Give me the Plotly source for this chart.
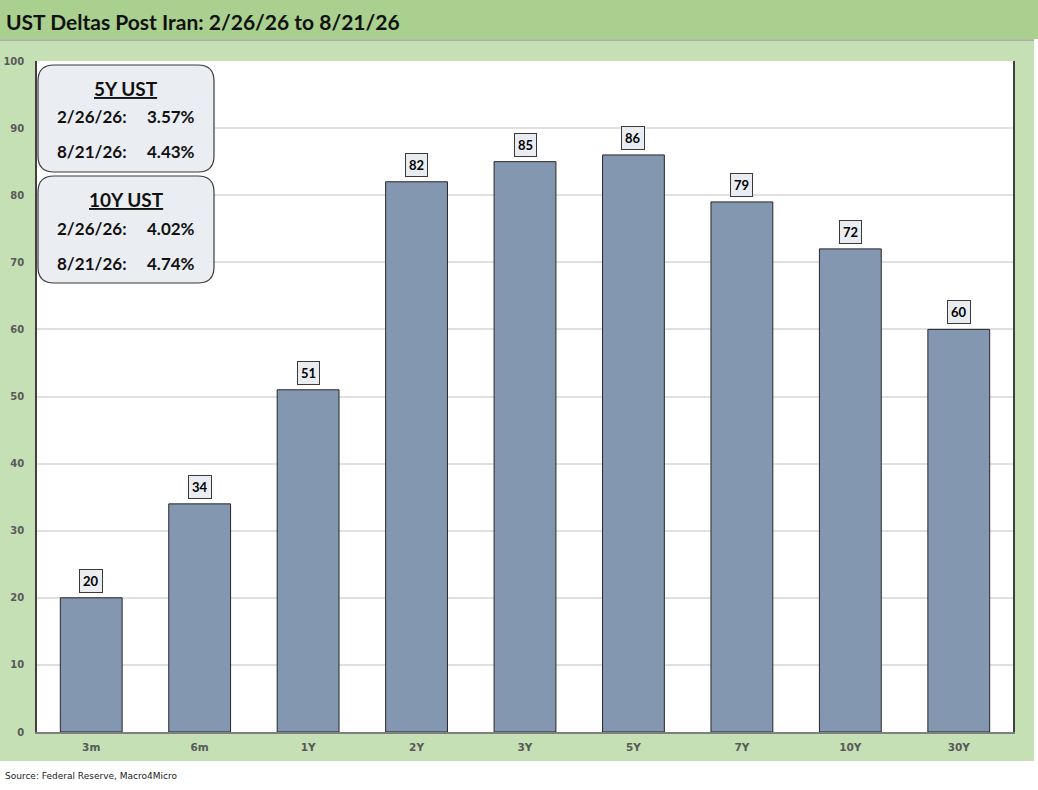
import plotly.graph_objs as go

# Chart data
tenors = ['3m', '6m', '1Y', '2Y', '3Y', '5Y', '7Y', '10Y', '30Y']
deltas = [20, 34, 51, 82, 85, 86, 79, 72, 60]
y_ticks = [0, 10, 20, 30, 40, 50, 60, 70, 80, 90, 100]

box_titles = ['5Y UST', '10Y UST']
box_dates = ['2/26/26:', '8/21/26:']
box_yields = [['3.57%', '4.43%'], ['4.02%', '4.74%']]

FONT = 'Lato'
TICKFONT = 'DejaVu Sans'
W, H = 1038, 790
L, R, T, B = 37, 25, 61, 58
PW, PH = W - L - R, H - T - B


# pixel -> paper helpers for the decoration
def px(x):
    return (x - L) / PW


def py(y):
    return (H - B - y) / PH


def rounded_box(x0, y0, x1, y1, r):
    p = [
        (x0 + r, y0), (x1 - r, y0), (x1, y0), (x1, y0 + r), (x1, y1 - r),
        (x1, y1), (x1 - r, y1), (x0 + r, y1), (x0, y1), (x0, y1 - r),
        (x0, y0 + r), (x0, y0), (x0 + r, y0)
    ]
    s = [(px(a), py(b)) for a, b in p]
    return ('M {0[0]} {0[1]} L {1[0]} {1[1]} Q {2[0]} {2[1]} {3[0]} {3[1]} '
            'L {4[0]} {4[1]} Q {5[0]} {5[1]} {6[0]} {6[1]} L {7[0]} {7[1]} '
            'Q {8[0]} {8[1]} {9[0]} {9[1]} L {10[0]} {10[1]} '
            'Q {11[0]} {11[1]} {12[0]} {12[1]} Z').format(*s)


trace = go.Bar(x=tenors, y=deltas, marker={'color': '#8497b0', 'line': {'color': '#262626', 'width': 1}},
               hoverinfo='x+y')

shapes = [
    # light green panel
    dict(type='rect', xref='paper', yref='paper', x0=px(0), x1=px(1034), y0=py(761), y1=py(40),
         fillcolor='#c5e0b4', line={'width': 0}, layer='below'),
    # title band
    dict(type='rect', xref='paper', yref='paper', x0=px(0), x1=px(1038), y0=py(39), y1=py(0),
         fillcolor='#a9d08e', line={'width': 0}, layer='below'),
    dict(type='line', xref='paper', yref='paper', x0=px(0), x1=px(1034), y0=py(40), y1=py(40),
         line={'color': '#a0a0a0', 'width': 1.5}),
    # white plot area
    dict(type='rect', xref='paper', yref='paper', x0=0, x1=1, y0=0, y1=1,
         fillcolor='white', line={'width': 0}, layer='below'),
]

annotations = [
    dict(text='<b>UST Deltas Post Iran: 2/26/26 to 8/21/26</b>', xref='paper', yref='paper', x=px(4), y=py(21),
         xanchor='left', yanchor='middle', showarrow=False, font={'family': FONT, 'size': 21, 'color': '#111111'}),
    dict(text='Source: Federal Reserve, Macro4Micro', xref='paper', yref='paper', x=px(3), y=py(776),
         xanchor='left', yanchor='middle', showarrow=False,
         font={'family': TICKFONT, 'size': 9, 'color': '#222222'}),
]

# yield boxes in the top left corner
for i, title in enumerate(box_titles):
    top = 65 + i * 111
    shapes.append(dict(type='path', xref='paper', yref='paper', path=rounded_box(38, top, 214, top + 107, 16),
                       fillcolor='rgba(233,236,241,0.95)', line={'color': '#3a3a3a', 'width': 1.2}, layer='above'))
    annotations.append(dict(text='<b><u>' + title + '</u></b>', xref='paper', yref='paper', x=px(126),
                            y=py(top + 23), xanchor='center', yanchor='middle', showarrow=False,
                            font={'family': FONT, 'size': 19, 'color': '#111111'}))
    for j, d in enumerate(box_dates):
        yy = py(top + 52 + j * 35)
        annotations.append(dict(text='<b>' + d + '</b>', xref='paper', yref='paper', x=px(129), y=yy,
                                xanchor='right', yanchor='middle', showarrow=False,
                                font={'family': FONT, 'size': 17, 'color': '#111111'}))
        annotations.append(dict(text='<b>' + box_yields[i][j] + '</b>', xref='paper', yref='paper', x=px(197),
                                y=yy, xanchor='right', yanchor='middle', showarrow=False,
                                font={'family': FONT, 'size': 17, 'color': '#111111'}))

# value labels on the bars
for t, v in zip(tenors, deltas):
    annotations.append(dict(text='<b>' + str(v) + '</b>', x=t, y=v, xref='x', yref='y', yanchor='bottom',
                            yshift=5, showarrow=False, bgcolor='#e9ecf1', bordercolor='#3a3a3a',
                            borderwidth=1, borderpad=3, font={'family': FONT, 'size': 13, 'color': '#000000'}))

layout = go.Layout(
    width=W, height=H,
    margin={'l': L, 'r': R, 't': T, 'b': B},
    paper_bgcolor='white', plot_bgcolor='rgba(0,0,0,0)',
    bargap=0.43, showlegend=False,
    font={'family': FONT},
    xaxis={'showline': True, 'linecolor': '#7f7f7f', 'linewidth': 2, 'mirror': False, 'ticks': '',
           'automargin': False, 'ticklabelstandoff': 4,
           'tickfont': {'family': TICKFONT, 'size': 10.5, 'color': '#595959', 'weight': 'bold'}},
    yaxis={'range': [0, 100], 'tickvals': y_ticks, 'showgrid': True, 'gridcolor': '#e0e0e0', 'gridwidth': 1.5,
           'showline': True, 'linecolor': '#404040', 'linewidth': 1.5, 'mirror': True, 'zeroline': False,
           'ticks': '', 'ticklabelstandoff': 9, 'automargin': False,
           'tickfont': {'family': TICKFONT, 'size': 10, 'color': '#595959', 'weight': 'bold'}},
    shapes=shapes, annotations=annotations,
)

fig = go.Figure(data=[trace], layout=layout)
# drop the default page margin so the figure sits at the window's top-left corner
fig.write_html("out.html", config={'displayModeBar': False},
               post_script="document.body.style.margin='0px';")
